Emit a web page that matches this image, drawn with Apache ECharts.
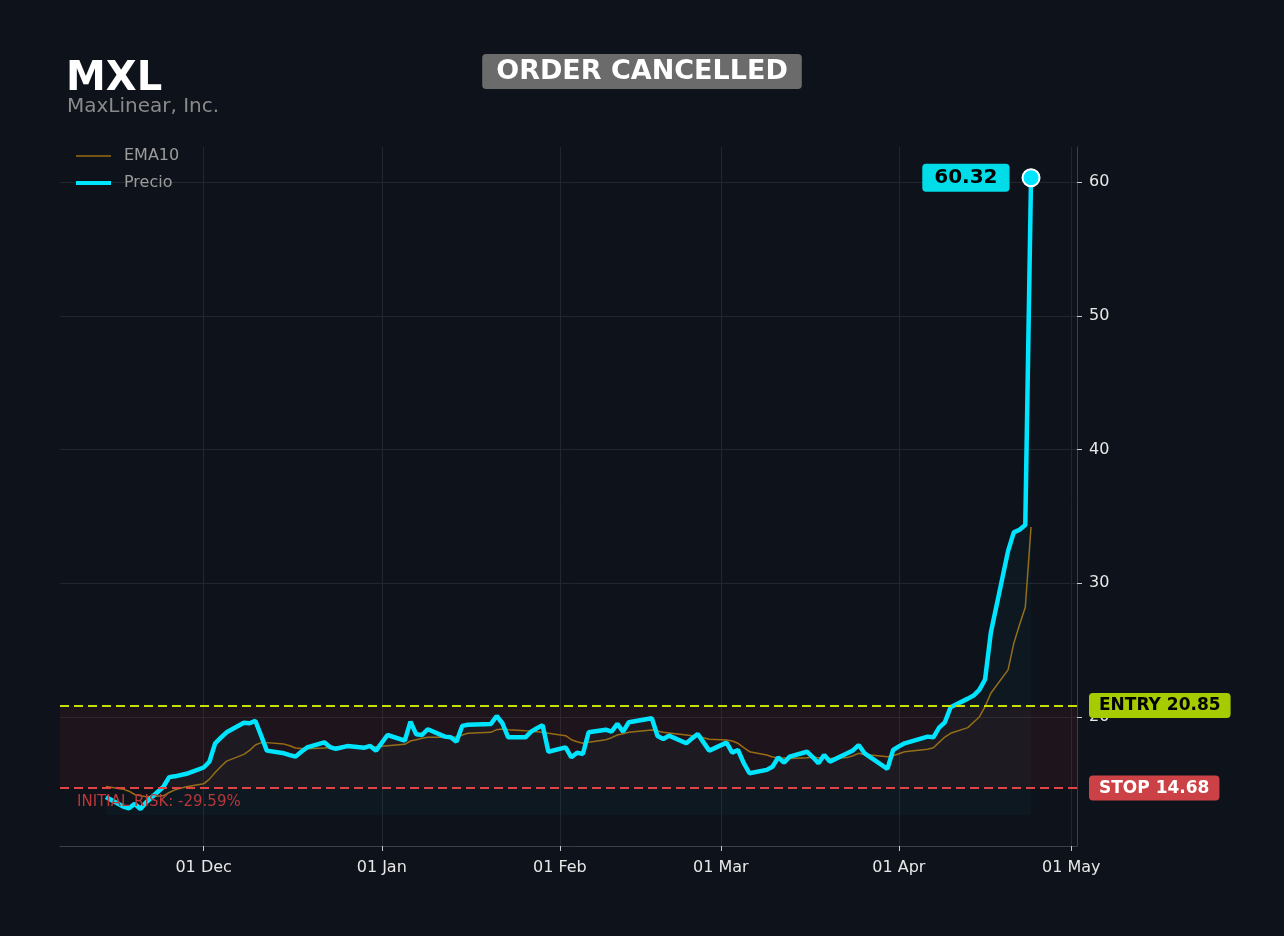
<!DOCTYPE html>
<html>
<head>
<meta charset="utf-8">
<title>MXL</title>
<script src="https://cdn.jsdelivr.net/npm/echarts@6/dist/echarts.min.js"></script>
<style>
  html, body { margin: 0; padding: 0; background: #0e121a; }
  #chart { width: 1284px; height: 936px; }
</style>
</head>
<body>
<div id="chart"></div>
<script>
// trading days
const dates = [
  '2025-11-14', '2025-11-17', '2025-11-18', '2025-11-19', '2025-11-20', '2025-11-21',
  '2025-11-24', '2025-11-25', '2025-11-26', '2025-11-28',
  '2025-12-01', '2025-12-02', '2025-12-03', '2025-12-04', '2025-12-05',
  '2025-12-08', '2025-12-09', '2025-12-10', '2025-12-11', '2025-12-12',
  '2025-12-15', '2025-12-16', '2025-12-17', '2025-12-18', '2025-12-19',
  '2025-12-22', '2025-12-23', '2025-12-24', '2025-12-26',
  '2025-12-29', '2025-12-30', '2025-12-31', '2026-01-02',
  '2026-01-05', '2026-01-06', '2026-01-07', '2026-01-08', '2026-01-09',
  '2026-01-12', '2026-01-13', '2026-01-14', '2026-01-15', '2026-01-16',
  '2026-01-20', '2026-01-21', '2026-01-22', '2026-01-23',
  '2026-01-26', '2026-01-27', '2026-01-28', '2026-01-29', '2026-01-30',
  '2026-02-02', '2026-02-03', '2026-02-04', '2026-02-05', '2026-02-06',
  '2026-02-09', '2026-02-10', '2026-02-11', '2026-02-12', '2026-02-13',
  '2026-02-17', '2026-02-18', '2026-02-19', '2026-02-20',
  '2026-02-23', '2026-02-24', '2026-02-25', '2026-02-26', '2026-02-27',
  '2026-03-02', '2026-03-03', '2026-03-04', '2026-03-05', '2026-03-06',
  '2026-03-09', '2026-03-10', '2026-03-11', '2026-03-12', '2026-03-13',
  '2026-03-16', '2026-03-17', '2026-03-18', '2026-03-19', '2026-03-20',
  '2026-03-23', '2026-03-24', '2026-03-25', '2026-03-26', '2026-03-27',
  '2026-03-30', '2026-03-31', '2026-04-01', '2026-04-02',
  '2026-04-06', '2026-04-07', '2026-04-08', '2026-04-09', '2026-04-10',
  '2026-04-13', '2026-04-14', '2026-04-15', '2026-04-16', '2026-04-17',
  '2026-04-20', '2026-04-21', '2026-04-22', '2026-04-23', '2026-04-24'
]

const price = [
  14.02, 13.3, 13.17, 13.5, 13.12, 13.62,
  14.78, 15.5, 15.56, 15.75,
  16.22, 16.65, 18.03, 18.45, 18.85,
  19.57, 19.53, 19.72, 18.6, 17.48,
  17.28, 17.15, 17.03, 17.4, 17.72,
  18.1, 17.75, 17.62, 17.82,
  17.7, 17.83, 17.48, 18.65,
  18.23, 19.65, 18.7, 18.65, 19.08,
  18.53, 18.48, 18.15, 19.33, 19.42,
  19.48, 20.07, 19.53, 18.48,
  18.48, 18.9, 19.15, 19.38, 17.4,
  17.73, 16.98, 17.33, 17.23, 18.85,
  19.05, 18.9, 19.48, 18.9, 19.6,
  19.9, 18.58, 18.35, 18.6,
  18.03, 18.4, 18.73, 18.1, 17.48,
  18.08, 17.33, 17.53, 16.54, 15.79,
  16.04, 16.28, 16.98, 16.58, 17.03,
  17.4, 17.0, 16.54, 17.16, 16.66,
  17.28, 17.5, 17.9, 17.3, 17.0,
  16.11, 17.53, 17.8, 18.03,
  18.53, 18.48, 19.2, 19.6, 20.73,
  21.37, 21.6, 22.02, 22.8, 26.3,
  32.4, 33.8, 34.0, 34.36, 60.32
]

const ema10 = [
  14.8, 14.6, 14.45, 14.2, 14.1, 14.04,
  14.1, 14.35, 14.55, 14.78,
  15.0, 15.35, 15.85, 16.3, 16.7,
  17.2, 17.5, 17.9, 18.08, 18.08,
  17.97, 17.85, 17.68, 17.65, 17.62,
  17.68, 17.72, 17.75, 17.78,
  17.78, 17.78, 17.78, 17.85,
  17.95, 18.2, 18.3, 18.4, 18.48,
  18.48, 18.5, 18.5, 18.65, 18.78,
  18.85, 19.05, 19.1, 19.05,
  18.97, 18.95, 18.9, 18.85, 18.78,
  18.6, 18.3, 18.15, 18.03, 18.1,
  18.3, 18.45, 18.65, 18.75, 18.85,
  19.03, 18.95, 18.85, 18.8,
  18.65, 18.6, 18.6, 18.45, 18.33,
  18.28, 18.2, 18.03, 17.7, 17.4,
  17.16, 17.0, 16.95, 16.93, 16.9,
  16.95, 16.98, 16.95, 16.95, 16.9,
  16.96, 17.1, 17.28, 17.2, 17.16,
  17.03, 17.1, 17.25, 17.4,
  17.58, 17.7, 18.1, 18.5, 18.78,
  19.2, 19.6, 20.0, 20.77, 21.77,
  23.52, 25.5, 26.9, 28.2, 34.2
]

const tickDates = ['2025-12-01', '2026-01-01', '2026-02-01', '2026-03-01', '2026-04-01', '2026-05-01']
const yTicks = [20, 30, 40, 50, 60]

const entryPrice = 20.85
const stopPrice = 14.68
const initialRisk = -29.59

const CYAN = '#00e5ff'
const EMA_COLOR = '#9a6b12'
const FONT = 'DejaVu Sans'

const chart = echarts.init(document.getElementById('chart'))

const toTime = d => echarts.time.parse(d).getTime()
const times = dates.map(toTime)
const priceData = times.map((t, i) => [t, price[i]])
const emaData = times.map((t, i) => [t, ema10[i]])
const last = priceData[priceData.length - 1]
const tickTimes = tickDates.map(toTime)

const option = {
  backgroundColor: '#0e121a',
  animation: false,
  textStyle: { fontFamily: FONT },
  title: [
    {
      text: 'MXL',
      left: 61,
      top: 55,
      textStyle: { color: '#ffffff', fontSize: 40, fontWeight: 'bold', fontFamily: FONT }
    },
    {
      text: 'MaxLinear, Inc.',
      left: 62,
      top: 92,
      textStyle: { color: '#8a8a8a', fontSize: 20, fontWeight: 'normal', fontFamily: FONT }
    },
    {
      text: 'ORDER CANCELLED',
      left: 'center',
      top: 54,
      backgroundColor: '#6b6b6b',
      borderRadius: 4,
      padding: [4, 14, 4, 14],
      textStyle: { color: '#ffffff', fontSize: 27, fontWeight: 'bold', fontFamily: FONT }
    }
  ],
  legend: {
    left: 74,
    top: 148,
    padding: 0,
    orient: 'vertical',
    itemWidth: 35,
    itemHeight: 14,
    itemGap: 11,
    textStyle: { color: '#9c9c9c', fontSize: 16, fontFamily: FONT, padding: [0, 0, 0, 8] },
    data: [
      { name: 'EMA10', lineStyle: { width: 1.5 }, itemStyle: { opacity: 0 } },
      { name: 'Precio', lineStyle: { width: 4 }, itemStyle: { opacity: 0 } }
    ]
  },
  grid: { left: 60, right: 207, top: 147, bottom: 90 },
  xAxis: {
    type: 'value',
    min: toTime('2025-11-06'),
    max: toTime('2026-05-02'),
    axisLine: { lineStyle: { color: '#3a3e46' } },
    axisTick: { show: true, length: 5, lineStyle: { color: '#cccccc' }, customValues: tickTimes },
    axisLabel: {
      color: '#e8e8e8',
      fontSize: 16,
      fontFamily: FONT,
      margin: 14,
      customValues: tickTimes,
      formatter: v => echarts.time.format(v, '{dd} {MMM}', false)
    },
    splitLine: { show: true, lineStyle: { color: '#22262e', width: 1 } }
  },
  yAxis: {
    type: 'value',
    position: 'right',
    min: 10.35,
    max: 62.62,
    axisLine: { show: true, lineStyle: { color: '#3a3e46' } },
    axisTick: { show: true, length: 5, lineStyle: { color: '#cccccc' }, customValues: yTicks },
    axisLabel: { color: '#e8e8e8', fontSize: 16, fontFamily: FONT, margin: 12, customValues: yTicks },
    splitLine: { show: true, lineStyle: { color: '#22262e', width: 1 } }
  },
  graphic: [
    {
      type: 'text',
      left: 77,
      top: 795,
      silent: true,
      style: {
        text: 'INITIAL RISK: ' + initialRisk.toFixed(2) + '%',
        fill: '#b8383c',
        fontSize: 15,
        fontFamily: FONT
      },
      z: 100
    }
  ],
  series: [
    {
      name: 'EMA10',
      type: 'line',
      data: emaData,
      symbol: 'none',
      lineStyle: { color: EMA_COLOR, width: 1.5 },
      itemStyle: { color: EMA_COLOR },
      z: 2
    },
    {
      name: 'Precio',
      type: 'line',
      data: priceData,
      symbol: 'none',
      lineStyle: { color: CYAN, width: 4.5 },
      itemStyle: { color: CYAN },
      areaStyle: { color: 'rgba(0,229,255,0.045)', origin: 12.67 },
      z: 3,
      markArea: {
        silent: true,
        itemStyle: { color: 'rgba(200,40,40,0.09)' },
        data: [[{ yAxis: stopPrice }, { yAxis: entryPrice }]]
      },
      markLine: {
        silent: true,
        symbol: 'none',
        animation: false,
        data: [
          {
            yAxis: entryPrice,
            lineStyle: { color: '#c6de00', type: [9, 5], width: 2.2 },
            label: {
              position: 'end',
              distance: 12,
              formatter: 'ENTRY ' + entryPrice.toFixed(2),
              color: '#000000',
              backgroundColor: '#a6cc00',
              borderRadius: 4,
              padding: [4, 10, 4, 10],
              fontSize: 17,
              fontWeight: 'bold',
              fontFamily: FONT
            }
          },
          {
            yAxis: stopPrice,
            lineStyle: { color: '#e04444', type: [9, 5], width: 2.2 },
            label: {
              position: 'end',
              distance: 12,
              formatter: 'STOP ' + stopPrice.toFixed(2),
              color: '#ffffff',
              backgroundColor: '#cc4145',
              borderRadius: 4,
              padding: [4, 10, 4, 10],
              fontSize: 17,
              fontWeight: 'bold',
              fontFamily: FONT
            }
          }
        ]
      }
    },
    {
      name: 'Último',
      type: 'scatter',
      data: [last],
      symbol: 'circle',
      symbolSize: 17,
      itemStyle: { color: CYAN, borderColor: '#ffffff', borderWidth: 2, opacity: 1 },
      label: {
        show: true,
        position: 'left',
        distance: 12,
        formatter: p => p.value[1].toFixed(2),
        color: '#000000',
        backgroundColor: '#00dde8',
        borderRadius: 4,
        padding: [4, 12, 4, 12],
        fontSize: 20,
        fontWeight: 'bold',
        fontFamily: FONT
      },
      z: 10
    }
  ]
}

chart.setOption(option)
</script>
</body>
</html>
